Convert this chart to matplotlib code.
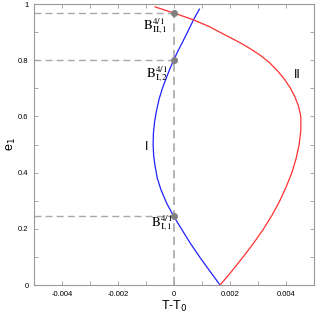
import matplotlib
matplotlib.use("Agg")
import matplotlib.pyplot as plt
from matplotlib.ticker import MultipleLocator

plt.rcParams['font.family'] = ['Liberation Sans', 'DejaVu Sans']

# branch I (blue)
blue_x = [0.00164, 0.00127, 0.00091, 0.00057, 0.00026, 0.0, -0.00026,
          -0.00047, -0.0006, -0.00068, -0.00073, -0.00075, -0.00074, -0.0007,
          -0.00063, -0.00054, -0.00042, -0.0003, -0.00015, 0.0, 0.00014, 0.00029,
          0.0005, 0.00069, 0.0009]
blue_y = [0.0, 0.05, 0.1, 0.15, 0.2, 0.242, 0.29,
          0.339, 0.38, 0.423, 0.46, 0.50, 0.54, 0.58,
          0.62, 0.661, 0.70, 0.732, 0.77, 0.804, 0.834, 0.863,
          0.905, 0.944, 0.982]

# branch II (red)
red_x = [0.00164, 0.00206, 0.00246, 0.00284, 0.00319, 0.0035, 0.00377, 0.004,
         0.0042, 0.00435, 0.00446, 0.00452, 0.00452, 0.00444, 0.0043, 0.00414,
         0.00394, 0.00369, 0.0034, 0.0031, 0.00275, 0.00238, 0.002, 0.00161,
         0.00125, 0.00069, 0.0, -0.00068]
red_y = [0.0, 0.05, 0.1, 0.15, 0.2, 0.25, 0.3, 0.35,
         0.4, 0.45, 0.5, 0.55, 0.6, 0.636, 0.672, 0.702,
         0.732, 0.762, 0.792, 0.816, 0.839, 0.861, 0.881, 0.901,
         0.920, 0.944, 0.968, 0.990]

# bifurcation points
bif_y = [0.245, 0.8, 0.968]
bif_labels = [r'$\mathrm{B}^{4/1}_{\mathrm{I},1}$',
              r'$\mathrm{B}^{4/1}_{\mathrm{I},2}$',
              r'$\mathrm{B}^{4/1}_{\mathrm{II},1}$']

fig = plt.figure(figsize=(3.16, 3.15), dpi=100)
ax = fig.add_axes([0.1076, 0.095, 0.887, 0.892])

gray = '#a8a8a8'
ax.axvline(0, color=gray, ls=(0, (5, 3)), lw=1.2, zorder=1)
for yb in bif_y:
    ax.plot([-0.005, 0], [yb, yb], color=gray, ls=(0, (5, 3)), lw=1.0, zorder=1)

ax.plot(blue_x, blue_y, color='#2020ff', lw=0.9, zorder=2)
ax.plot(red_x, red_y, color='#ff3030', lw=0.9, zorder=2)
ax.plot([0] * len(bif_y), bif_y, 'o', color='#808080', ms=4, zorder=3)

lab_pos = [(-0.00005, 0.222), (-0.00022, 0.752), (-0.00022, 0.922)]
for (lx, ly), t in zip(lab_pos, bif_labels):
    ax.text(lx, ly, t, ha='right', va='center', fontsize=9.5,
            math_fontfamily='stix')

ax.text(-0.001, 0.49, 'I', ha='center', va='center', fontsize=9)
ax.text(0.0044, 0.746, 'II', ha='center', va='center', fontsize=9)

ax.set_xlim(-0.005, 0.005)
ax.set_ylim(0, 1)
ax.xaxis.set_minor_locator(MultipleLocator(0.001))
ax.yaxis.set_minor_locator(MultipleLocator(0.1))
ax.set_xticks([-0.004, -0.002, 0, 0.002, 0.004])
ax.set_xticklabels(['-0.004', '-0.002', '0', '0.002', '0.004'])
ax.set_yticks([0, 0.2, 0.4, 0.6, 0.8, 1])
ax.set_yticklabels(['0', '0.2', '0.4', '0.6', '0.8', '1'])
ax.tick_params(which='both', direction='in', top=True, right=True,
               length=3, width=0.6, color='#999999', labelsize=5.5, pad=4)
for s in ax.spines.values():
    s.set_color('#999999')
    s.set_linewidth(0.8)

ax.set_xlabel('T-T$_0$', fontsize=9, labelpad=1, math_fontfamily='dejavusans')
ax.set_ylabel('e$_1$', fontsize=9, labelpad=0, math_fontfamily='dejavusans')

fig.savefig('out.png', dpi=100)
